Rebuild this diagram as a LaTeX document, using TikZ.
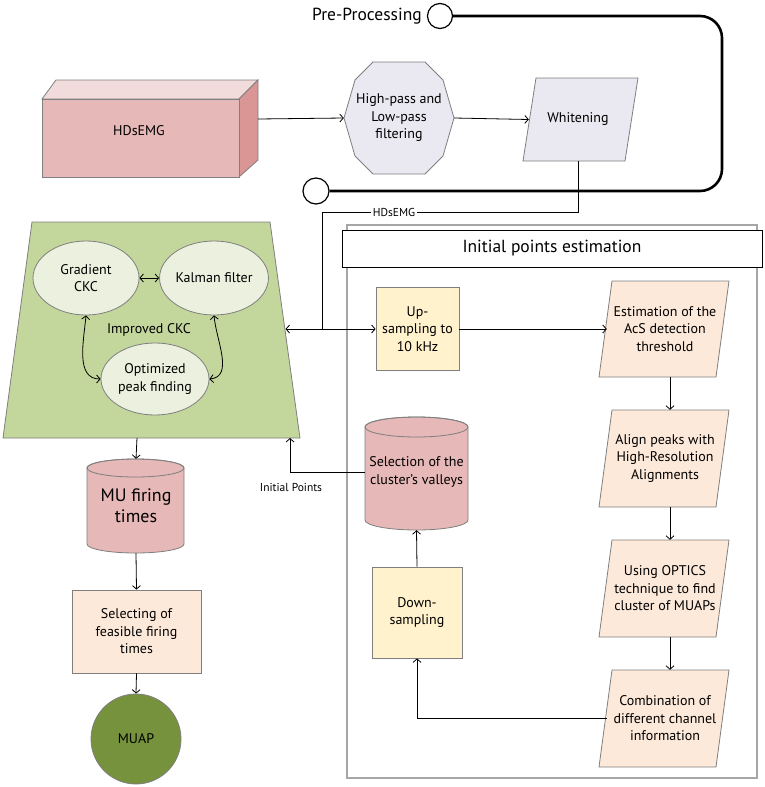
\documentclass[tikz,border=0pt]{standalone}
\usepackage{fontspec}
\setmainfont{PT Sans}
\usetikzlibrary{arrows.meta,shapes.geometric}
\definecolor{cubefront}{HTML}{E6B8B7}
\definecolor{cubetop}{HTML}{F2DCDB}
\definecolor{cubeside}{HTML}{D99694}
\definecolor{lav}{HTML}{EAE8F0}
\definecolor{trapgreen}{HTML}{C3D69B}
\definecolor{ellfill}{HTML}{EBF1DE}
\definecolor{yfill}{HTML}{FFF2CC}
\definecolor{peach}{HTML}{FDE9D9}
\definecolor{cylpink}{HTML}{E6B8B7}
\definecolor{muapgreen}{HTML}{76923C}
\definecolor{bgray}{HTML}{7F7F7F}
\begin{document}
\begin{tikzpicture}[x=1pt,y=1pt,
  every node/.style={font=\fontsize{14}{17.5}\selectfont, align=center, inner sep=0pt},
  conn/.style={draw=black, line width=0.8pt},
  arr/.style={conn, -{Straight Barb[length=3.5pt,width=8pt]}},
  darr/.style={conn, {Straight Barb[length=3.5pt,width=8pt]}-{Straight Barb[length=3.5pt,width=8pt]}},
  shp/.style={draw=bgray, line width=0.8pt},
  ell/.style={ellipse, draw=bgray, line width=0.8pt, fill=ellfill},
  ybox/.style={rectangle, draw=bgray, line width=0.8pt, fill=yfill},
  pbox/.style={rectangle, draw=bgray, line width=0.8pt, fill=peach},
  small/.style={font=\fontsize{11.5}{13}\selectfont},
]
\useasboundingbox (0,0) rectangle (765,-787);

% ---------- Pre-processing loop ----------
\node[circle, draw, line width=1.2pt, fill=white, minimum size=25] (c1) at (440,-16) {};
\node[anchor=east, font=\fontsize{17.5}{20}\selectfont] (pp) at ([xshift=-5pt]c1.west) {Pre-Processing};
\node[circle, draw, line width=1.2pt, fill=white, minimum size=26] (c2) at (316,-191) {};
\draw[line width=2.6pt, rounded corners=22pt] (c1.east) -- (722,-16) -- (722,-191) -- (c2.east);

% ---------- HDsEMG cuboid ----------
\draw[shp, fill=cubetop] (42,-99) -- (56,-80) -- (258,-80) -- (239,-99) -- cycle;
\draw[shp, fill=cubeside] (239,-99) -- (258,-80) -- (258,-160) -- (239,-177) -- cycle;
\draw[shp, fill=cubefront] (42,-99) rectangle (239,-177);
\node (hd) at (139,-131) {HDsEMG};
\coordinate (hdr) at (258,-119);

% ---------- filtering decagon ----------
\draw[shp, fill=lav, shift={(399,-118)}] (26,56) -- (44,38) -- (55,0) -- (44,-38) -- (26,-56)
  -- (-26,-56) -- (-44,-38) -- (-55,0) -- (-44,38) -- (-26,56) -- cycle;
\node[minimum width=110] (filt) at (399,-118) {High-pass and\\Low-pass\\filtering};

% ---------- whitening ----------
\draw[shp, fill=lav] (536,-78) -- (638,-78) -- (625,-161) -- (523,-161) -- cycle;
\node[minimum width=98, minimum height=83] (wh) at (578,-119.5) {Whitening};

\draw[arr] (hdr) -- (filt.west);
\draw[arr] (filt.east) -- (wh.west);

% ---------- Improved CKC trapezoid ----------
\draw[shp, fill=trapgreen] (32,-222) -- (270,-222) -- (300,-438) -- (3,-438) -- cycle;
\coordinate (tR) at (285.5,-329);
\coordinate (tB1) at (137,-438);
\coordinate (tB2) at (290,-438);
\node[ell, minimum width=106, minimum height=74] (grad) at (86,-278) {Gradient\\CKC};
\node[ell, minimum width=108, minimum height=74] (kal) at (214,-278) {Kalman filter};
\node[ell, minimum width=108, minimum height=72] (opt) at (155,-379) {Optimized\\peak finding};
\node (imp) at (149,-330) {Improved CKC};
\draw[darr] (grad.east) -- (kal.west);
\draw[darr] (grad.south) to[out=-95,in=180] (opt.west);
\draw[darr] (kal.south) to[out=-85,in=5] (opt.east);

% ---------- Initial points estimation frame ----------
\draw[draw=black!35, line width=1.2pt] (347,-225) rectangle (757,-778);
\node[draw, line width=1pt, fill=white, minimum width=420, minimum height=37,
  font=\fontsize{17.5}{20}\selectfont] (title) at (552,-248.5) {Initial points estimation};

% HDsEMG line from whitening
\coordinate (k1) at (322,-212);
\coordinate (k2) at (322,-329);
\draw[conn] (wh.south) |- (k1) -- (k2);
\node[small, fill=white, inner xsep=2pt, inner ysep=1pt] (lab1) at (394,-212) {HDsEMG};

\node[ybox, minimum width=83, minimum height=83] (up) at (417.5,-329) {Up-\\sampling to\\10 kHz};
\draw[arr] (k2) -- (tR);
\draw[arr] (k2) -- (up.west);

% parallelograms
\draw[shp, fill=peach] (612,-281) -- (729,-281) -- (716,-377) -- (599,-377) -- cycle;
\node[minimum width=116, minimum height=96] (est) at (665,-329) {Estimation of the\\AcS detection\\threshold};
\draw[shp, fill=peach] (612,-410) -- (729,-410) -- (716,-507) -- (599,-507) -- cycle;
\node[minimum width=116, minimum height=97] (al) at (665,-458.5) {Align peaks with\\High-Resolution\\Alignments};
\draw[shp, fill=peach] (612,-540) -- (729,-540) -- (716,-637) -- (599,-637) -- cycle;
\node[minimum width=116, minimum height=97] (opc) at (665,-588.5) {Using OPTICS\\technique to find\\cluster of MUAPs};
\draw[shp, fill=peach] (612,-670) -- (729,-670) -- (716,-767) -- (599,-767) -- cycle;
\node[minimum width=116, minimum height=97] (comb) at (665,-718.5) {Combination of\\different channel\\information};

\draw[arr] (up.east) -- (est.west);
\draw[arr] ([xshift=5pt]est.south) -- ([xshift=5pt]al.north);
\draw[arr] ([xshift=5pt]al.south) -- ([xshift=5pt]opc.north);
\draw[arr] ([xshift=5pt]opc.south) -- ([xshift=5pt]comb.north);

% down-sampling and selection cylinder
\node[ybox, minimum width=90, minimum height=91] (down) at (417,-612.5) {Down-\\sampling};
\draw[arr] (comb.west) -| (down.south);

\draw[shp, fill=cylpink] (365,-427) -- (365,-520) arc[start angle=180, end angle=360, x radius=51.5, y radius=10]
  -- (468,-427) arc[start angle=0, end angle=180, x radius=51.5, y radius=10] -- cycle;
\draw[shp] (416.5,-427) ellipse[x radius=51.5, y radius=10];
\node[minimum width=103, minimum height=116] (sel) at (416.5,-472) {Selection of the\\cluster's valleys};
\draw[arr] (down.north) -- (sel.south);
\draw[arr] (sel.west) -| (tB2);
\node[small] (iplab) at (291,-487) {Initial Points};

% ---------- left column ----------
\draw[shp, fill=cylpink] (87,-468) -- (87,-544) arc[start angle=180, end angle=360, x radius=48.5, y radius=9]
  -- (184,-468) arc[start angle=0, end angle=180, x radius=48.5, y radius=9] -- cycle;
\draw[shp] (135.5,-468) ellipse[x radius=48.5, y radius=9];
\node[minimum width=97, minimum height=94, font=\fontsize{18}{21}\selectfont] (mu) at (136,-506) {MU firing\\times};
\draw[arr] (tB1) -- (mu.north);

\node[pbox, minimum width=129, minimum height=83] (selb) at (136.5,-631.5) {Selecting of\\feasible firing\\times};
\draw[arr] (mu.south) -- (selb.north);

\node[circle, draw=bgray, line width=0.8pt, fill=muapgreen, minimum size=90] (muap) at (136,-739) {MUAP};
\draw[arr] (selb.south) -- (muap.north);
\end{tikzpicture}
\end{document}
